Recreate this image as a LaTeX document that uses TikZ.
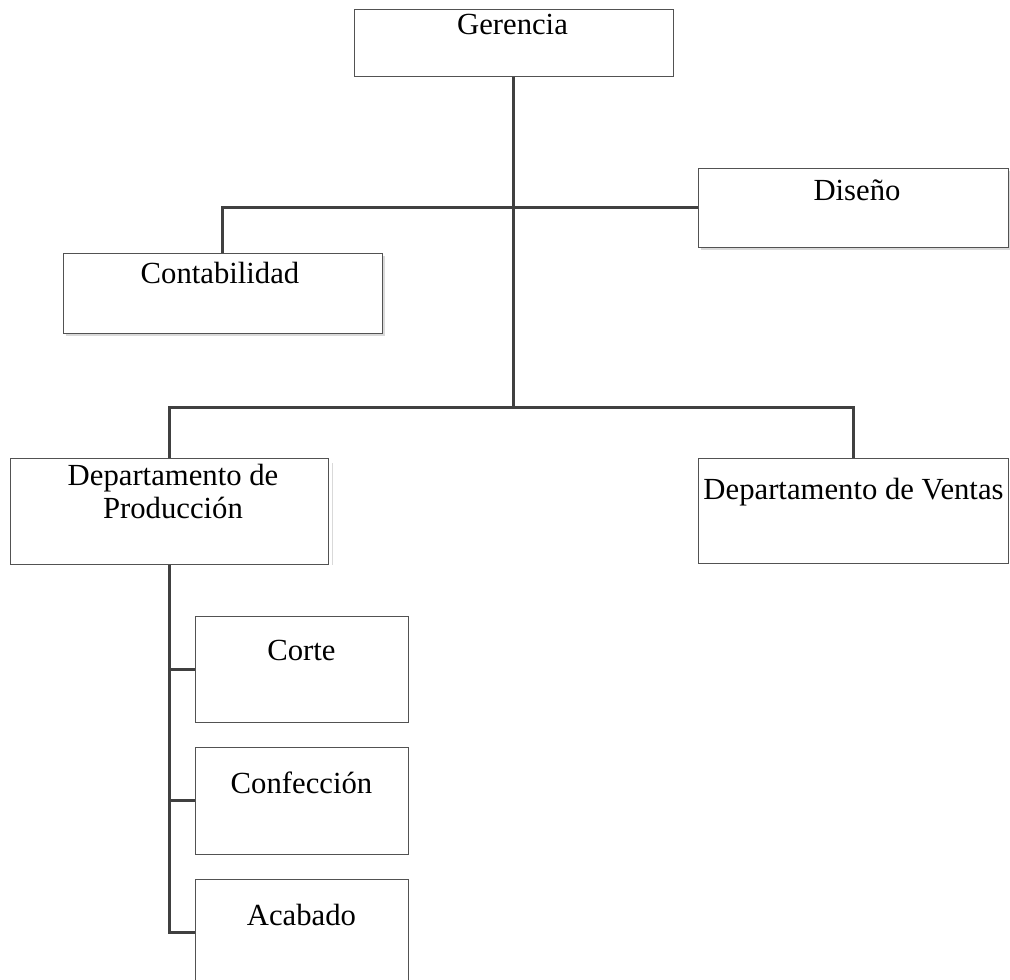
\documentclass[tikz,border=0pt]{standalone}
\usepackage{fontspec}
\setmainfont{Liberation Serif}
\usetikzlibrary{shadows}
\begin{document}
\begin{tikzpicture}[x=1pt,y=-1pt,
  box/.style={draw=black!68, line width=1pt, fill=white, rectangle, inner sep=0pt},
  shadowed/.style={drop shadow={shadow xshift=3pt, shadow yshift=-3pt, fill=black!15, opacity=1}},
  lbl/.style={font=\fontsize{30.7}{33}\selectfont, anchor=base, inner sep=0pt, align=center},
  link/.style={draw=black!75, line width=3pt}
]
\clip (0,0) rectangle (1010,980);
\fill[white] (0,0) rectangle (1010,980);

% boxes
\node[box, minimum width=319pt, minimum height=67pt] (ger) at (513.5,42.5) {};
\node[box, shadowed, minimum width=319pt, minimum height=80pt] (con) at (222.5,293) {};
\node[box, shadowed, minimum width=310pt, minimum height=79pt] (dis) at (853,207.5) {};
\draw[black!15, line width=1pt] (332,463) -- (332,565);
\node[box, minimum width=318pt, minimum height=106pt] (pro) at (169,511) {};
\node[box, minimum width=310pt, minimum height=105pt] (ven) at (853,510.5) {};
\node[box, minimum width=213pt, minimum height=106pt] (cor) at (301.5,669) {};
\node[box, minimum width=213pt, minimum height=107pt] (cnf) at (301.5,800.5) {};
\node[box, minimum width=213pt, minimum height=106pt] (aca) at (301.5,932) {};

% connectors
\coordinate (hub) at (513.5,407);
\draw[link] (ger.south) -- (hub);
\draw[link] (con.north) |- (dis.west);
\draw[link] (pro.north) |- (hub) -| (ven.north);
\draw[link] (pro.south) |- (aca.west);
\draw[link] (cor.west) -- (cor.west -| pro.south);
\draw[link] (cnf.west) -- (cnf.west -| pro.south);

% labels
\node[lbl] (tger) at (512.5,34) {Gerencia};
\node[lbl] (tcon) at (220,283) {Contabilidad};
\node[lbl] (tdis) at (857,200) {Diseño};
\node[lbl] (tpro) at (173,518) {Departamento de\\Producción};
\node[lbl] (tven) at (853.5,499) {Departamento de Ventas};
\node[lbl] (tcor) at (301.5,660) {Corte};
\node[lbl] (tcnf) at (301.5,793) {Confección};
\node[lbl] (taca) at (301.5,925) {Acabado};
\end{tikzpicture}
\end{document}
